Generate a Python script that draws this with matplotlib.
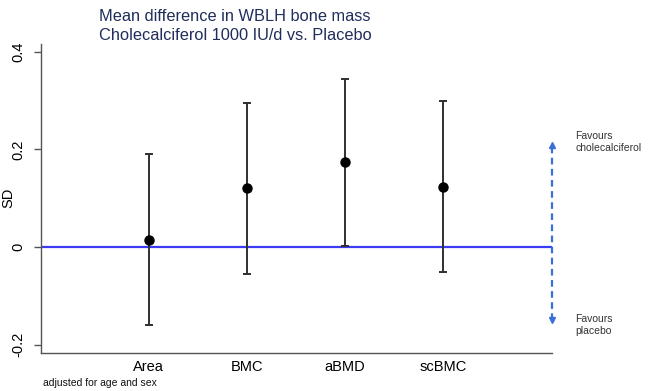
import matplotlib.pyplot as plt
import numpy as np

plt.rcParams['font.family'] = ['Liberation Sans', 'DejaVu Sans']

categories = ['Area', 'BMC', 'aBMD', 'scBMC']
mean_diff = [0.015, 0.120, 0.174, 0.124]
ci_low = [-0.159, -0.055, 0.003, -0.051]
ci_high = [0.190, 0.295, 0.345, 0.300]
yticks = [-0.2, 0, 0.2, 0.4]
ytick_labels = ['-0.2', '0', '0.2', '0.4']

fig = plt.figure(figsize=(6.49, 3.91), dpi=100)
ax = fig.add_axes([41/649, 1-353/391, (552-41)/649, (353-44)/391])

x = np.arange(1, len(categories)+1)
m = np.array(mean_diff)
err = [m - np.array(ci_low), np.array(ci_high) - m]

ax.axhline(0, color='#3b3bf5', lw=1.6, zorder=1)
ax.errorbar(x, m, yerr=err, fmt='o', color='black', ecolor='#303030',
            elinewidth=1.4, capsize=3.2, capthick=1.4, markersize=6.5, zorder=3)

ax.set_xlim(-0.1, 5.11)
ax.set_ylim(-0.217, 0.416)
ax.set_xticks(x)
ax.set_xticklabels(categories, fontsize=10.5)
ax.tick_params(axis='x', length=0, pad=5)
ax.set_yticks(yticks)
ax.set_yticklabels(ytick_labels, rotation=90, va='center', fontsize=10.5)
ax.tick_params(axis='y', length=5, color='#555555', width=1, pad=6)

for s in ['top', 'right']:
    ax.spines[s].set_visible(False)
for s in ['left', 'bottom']:
    ax.spines[s].set_color('#555555')
    ax.spines[s].set_linewidth(1)

fig.text(8/649, 1-198/391, 'SD', rotation=90, fontsize=10.5,
         ha='center', va='center')

# direction arrow on the right
arr_x = 5.11
arr_top, arr_bot = 0.21, -0.15
ax.plot([arr_x, arr_x], [arr_bot, arr_top], color='#3a6fd8', lw=1.6,
        ls=(0, (3, 2)), clip_on=False)
ax.plot(arr_x, arr_top, marker='^', color='#3a6fd8', markersize=5, clip_on=False)
ax.plot(arr_x, arr_bot, marker='v', color='#3a6fd8', markersize=5, clip_on=False)

fig.text(575/649, 1-142/391, 'Favours\ncholecalciferol', fontsize=7.5,
         color='#333333', va='center', ha='left', linespacing=1.3)
fig.text(575/649, 1-325/391, 'Favours\nplacebo', fontsize=7.5,
         color='#333333', va='center', ha='left', linespacing=1.3)

fig.text(235/649, 1-26/391, 'Mean difference in WBLH bone mass\nCholecalciferol 1000 IU/d vs. Placebo',
         ha='center', va='center', fontsize=11.8, color='#1f2d5a', linespacing=1.3)

fig.text(43/649, 1-383/391, 'adjusted for age and sex', fontsize=7.5,
         ha='left', va='center', color='#111111')

fig.savefig('out.png', dpi=100)
